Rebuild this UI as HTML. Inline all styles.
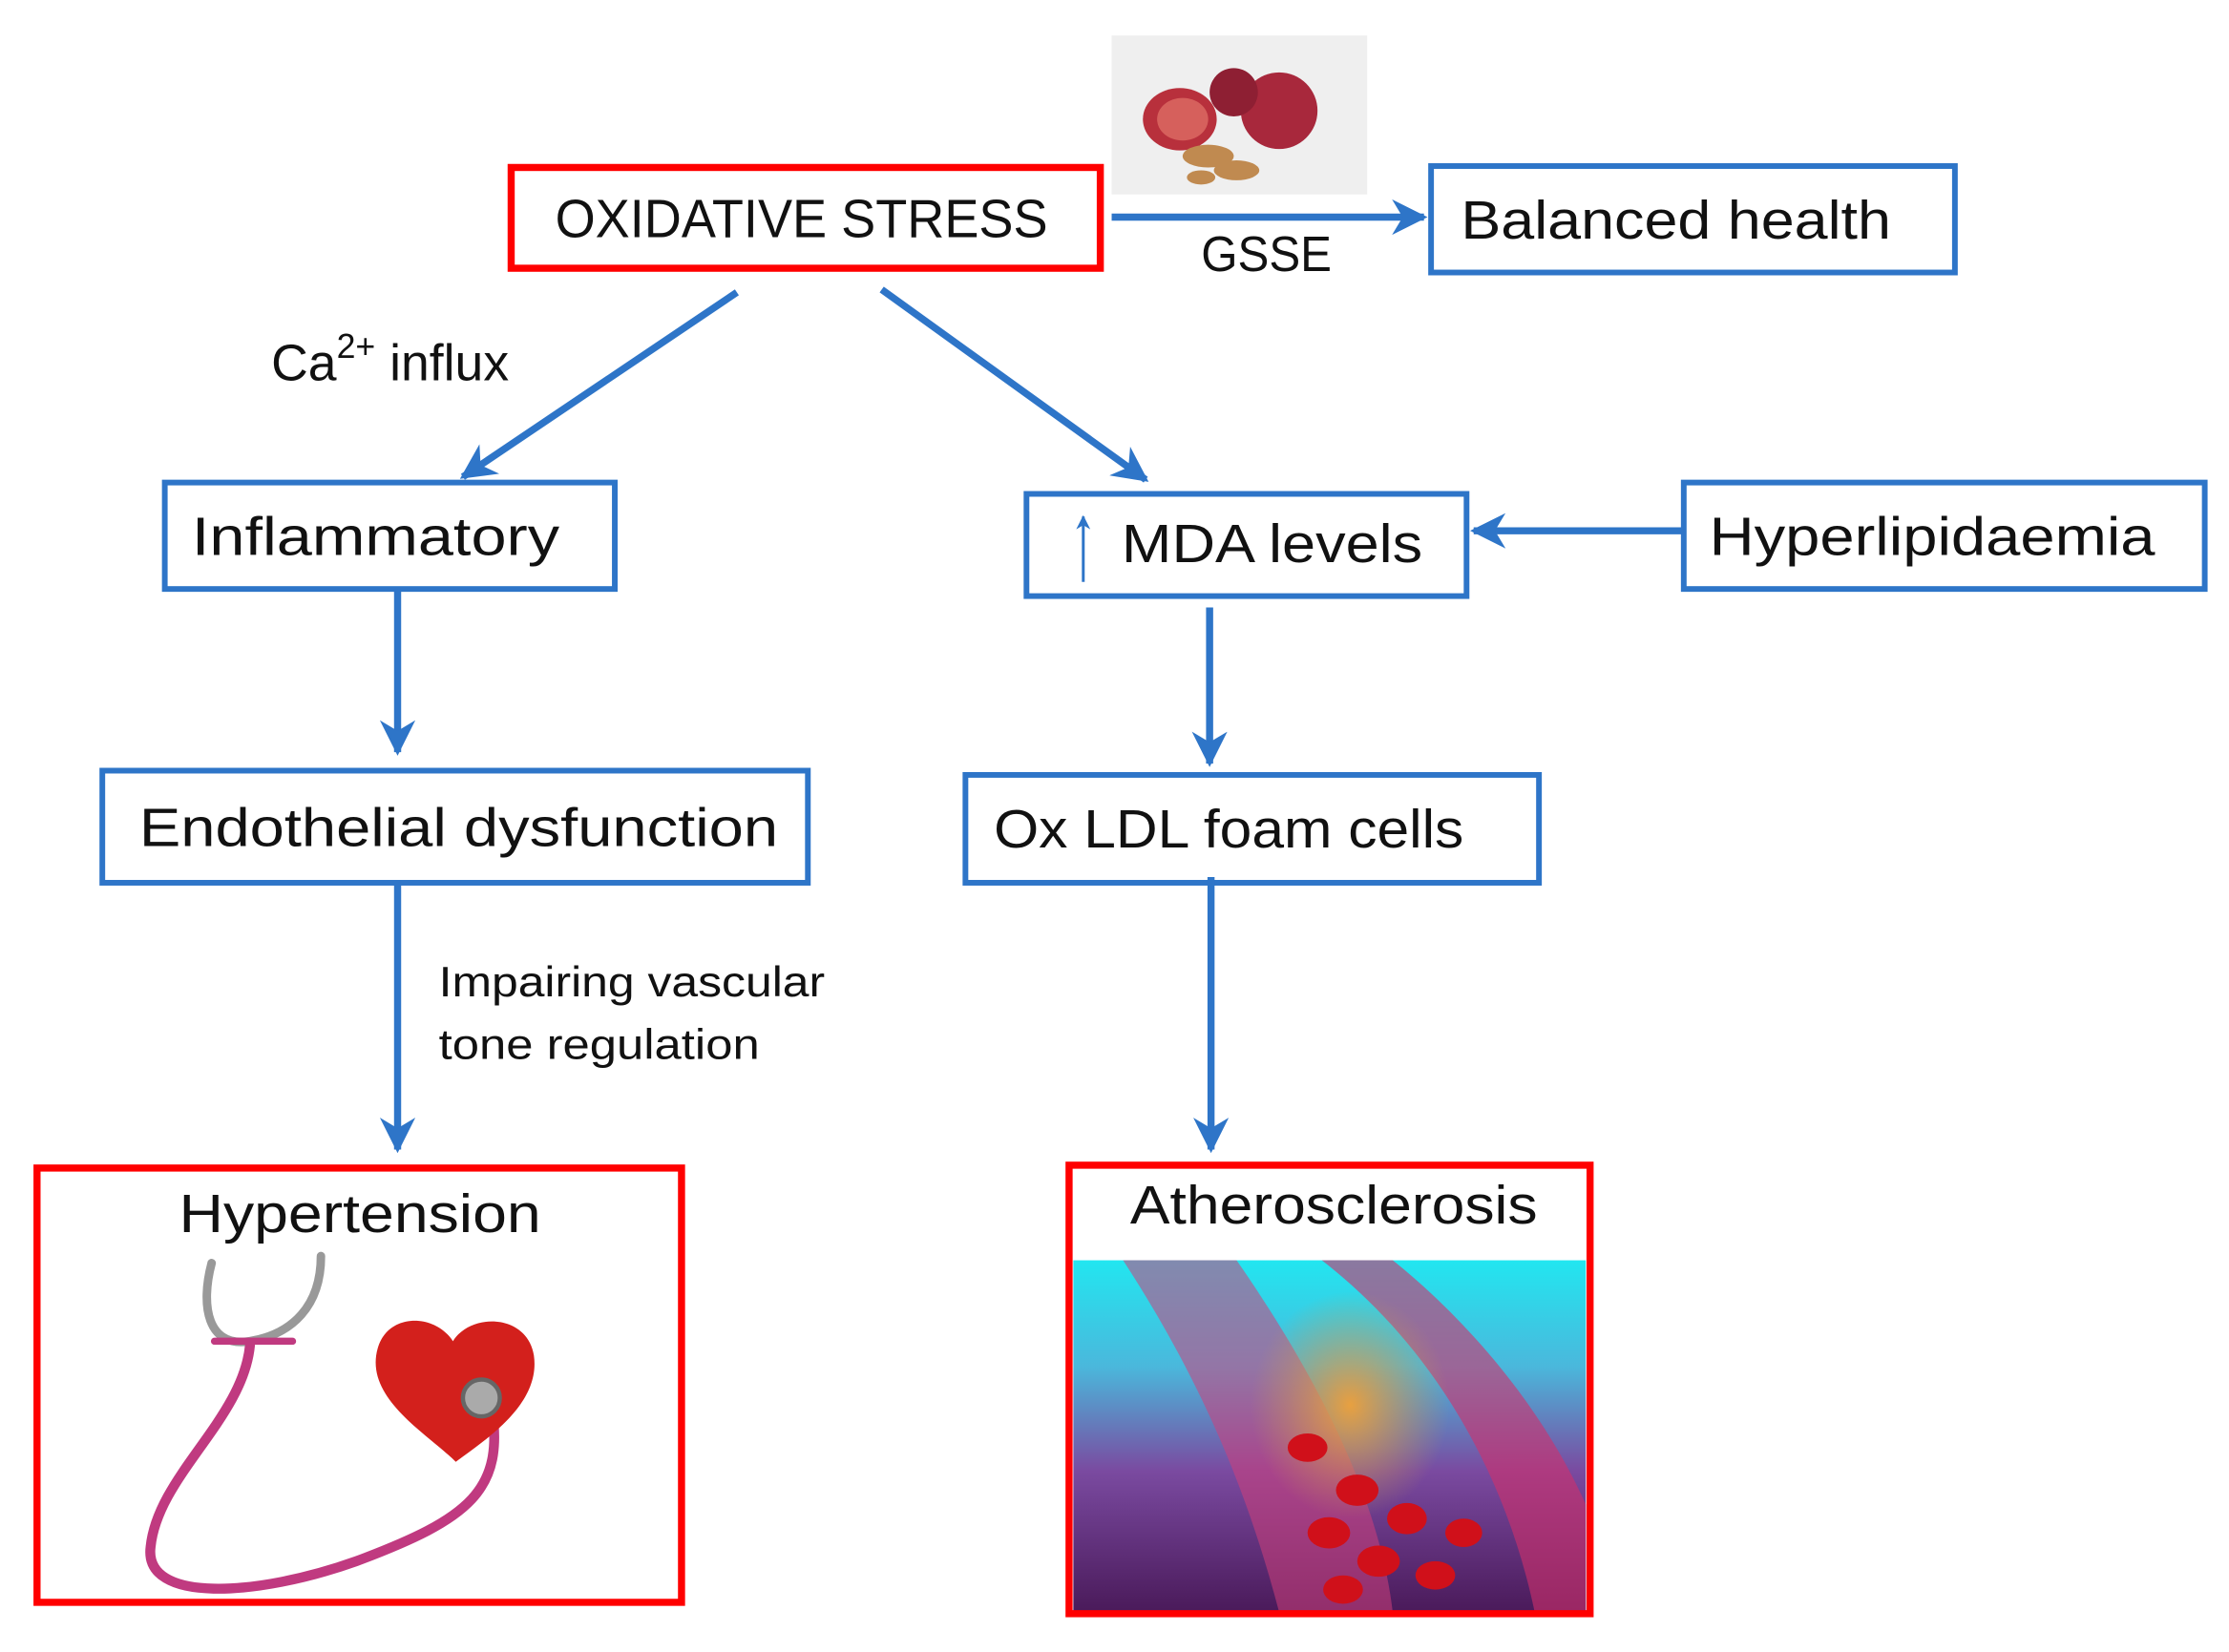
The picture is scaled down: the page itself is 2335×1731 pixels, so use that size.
<!DOCTYPE html>
<html><head><meta charset="utf-8"><style>
html,body{margin:0;padding:0;background:#fff;width:2335px;height:1731px;overflow:hidden}
svg{display:block}
text{font-family:"Liberation Sans",sans-serif;fill:#111}
</style></head><body>
<svg width="2335" height="1731" viewBox="0 0 1568 1164" xmlns="http://www.w3.org/2000/svg">
<defs>
<marker id="a" viewBox="0 0 10 10" refX="9" refY="5" markerWidth="5" markerHeight="5" orient="auto"><path d="M0,0 L10,5 L0,10 L3,5 z" fill="#2e75c8"/></marker>
<linearGradient id="ath" x1="0" y1="0" x2="0" y2="1">
<stop offset="0" stop-color="#22e6f0"/><stop offset="0.3" stop-color="#4ab8dc"/><stop offset="0.6" stop-color="#7a4aa0"/><stop offset="1" stop-color="#4a1a5a"/></linearGradient>
<radialGradient id="plq" cx="0.5" cy="0.5" r="0.5"><stop offset="0" stop-color="#e8a040"/><stop offset="1" stop-color="#c89a50" stop-opacity="0"/></radialGradient>
</defs>
<g fill="none" stroke="#2e75c8" stroke-width="4">
<rect x="1007" y="117" width="369" height="75"/>
<rect x="115" y="340" width="317" height="75"/>
<rect x="722" y="348" width="310" height="72"/>
<rect x="1185" y="340" width="367" height="75"/>
<rect x="71" y="543" width="497" height="79"/>
<rect x="679" y="546" width="404" height="76"/>
</g>
<g stroke="#2e75c8" stroke-width="5" fill="none" marker-end="url(#a)">
<line x1="782" y1="153" x2="1002" y2="153"/>
<line x1="518" y1="206" x2="325" y2="336"/>
<line x1="620" y1="204" x2="806" y2="338"/>
<line x1="1185" y1="374" x2="1037" y2="374"/>
<line x1="279" y1="415" x2="279" y2="530"/>
<line x1="851" y1="428" x2="851" y2="538"/>
<line x1="279" y1="622" x2="279" y2="810"/>
<line x1="852" y1="618" x2="852" y2="810"/>
</g>
<line x1="762" y1="410" x2="762" y2="364" stroke="#2e75c8" stroke-width="2" marker-end="url(#a)"/>
<rect x="782" y="25" width="180" height="112" fill="#efefef"/>
<circle cx="900" cy="78" r="27" fill="#a8283c"/>
<circle cx="868" cy="65" r="17" fill="#8e1f33"/>
<ellipse cx="830" cy="84" rx="26" ry="22" fill="#b8303c"/>
<ellipse cx="832" cy="84" rx="18" ry="15" fill="#d6605c"/>
<g fill="#c08a50"><ellipse cx="850" cy="110" rx="18" ry="8"/><ellipse cx="870" cy="120" rx="16" ry="7"/><ellipse cx="845" cy="125" rx="10" ry="5"/></g>
<rect x="359" y="118" width="415" height="71" fill="none" stroke="#f00" stroke-width="5"/>
<g lengthAdjust="spacingAndGlyphs">
<text x="390" y="167" font-size="38" textLength="347" lengthAdjust="spacingAndGlyphs">OXIDATIVE STRESS</text>
<text x="845" y="191" font-size="35" textLength="92" lengthAdjust="spacingAndGlyphs">GSSE</text>
<text x="1028" y="168" font-size="38" textLength="303" lengthAdjust="spacingAndGlyphs">Balanced health</text>
<text x="190" y="268" font-size="36">Ca<tspan font-size="24" dy="-16">2+</tspan><tspan dy="16" dx="10">influx</tspan></text>
<text x="134" y="391" font-size="38" textLength="259" lengthAdjust="spacingAndGlyphs">Inflammatory</text>
<text x="789" y="396" font-size="38" textLength="212" lengthAdjust="spacingAndGlyphs">MDA levels</text>
<text x="1203" y="391" font-size="38" textLength="314" lengthAdjust="spacingAndGlyphs">Hyperlipidaemia</text>
<text x="97" y="596" font-size="38" textLength="450" lengthAdjust="spacingAndGlyphs">Endothelial dysfunction</text>
<text x="699" y="597" font-size="38" textLength="331" lengthAdjust="spacingAndGlyphs">Ox LDL foam cells</text>
<text x="308" y="702" font-size="30" textLength="272" lengthAdjust="spacingAndGlyphs">Impairing vascular</text>
<text x="308" y="746" font-size="30" textLength="226" lengthAdjust="spacingAndGlyphs">tone regulation</text>
</g>
<rect x="25" y="823" width="454" height="306" fill="none" stroke="#f00" stroke-width="5"/>
<text x="125" y="868" font-size="38" textLength="255" lengthAdjust="spacingAndGlyphs">Hypertension</text>
<g fill="none" stroke-linecap="round">
<path d="M148,890 C140,920 145,950 175,945 C205,940 225,920 225,885" stroke="#999" stroke-width="6"/>
<path d="M175,948 C170,1000 110,1040 105,1090 C100,1130 180,1125 250,1100 C330,1070 355,1050 345,990" stroke="#c03a80" stroke-width="7"/>
<path d="M150,945 L205,945" stroke="#c03a80" stroke-width="5"/>
</g>
<path d="M320,1030 C300,1010 255,985 265,950 C272,925 305,925 318,945 C330,925 370,925 375,955 C380,990 340,1015 320,1030 Z" fill="#d3201c"/>
<circle cx="338" cy="985" r="13" fill="#aaa" stroke="#666" stroke-width="3"/>
<rect x="755" y="888" width="361" height="248" fill="url(#ath)"/>
<path d="M790,888 C850,980 880,1060 900,1136 L980,1136 C970,1050 920,960 870,888 Z" fill="#d0407a" opacity="0.55"/>
<path d="M930,888 C1010,950 1060,1040 1080,1136 L1116,1136 L1116,1060 C1080,980 1020,920 980,888 Z" fill="#d0306a" opacity="0.6"/>
<ellipse cx="950" cy="990" rx="70" ry="80" fill="url(#plq)"/>
<g fill="#d0101a"><ellipse cx="920" cy="1020" rx="14" ry="10"/><ellipse cx="955" cy="1050" rx="15" ry="11"/><ellipse cx="990" cy="1070" rx="14" ry="11"/><ellipse cx="935" cy="1080" rx="15" ry="11"/><ellipse cx="970" cy="1100" rx="15" ry="11"/><ellipse cx="1010" cy="1110" rx="14" ry="10"/><ellipse cx="945" cy="1120" rx="14" ry="10"/><ellipse cx="1030" cy="1080" rx="13" ry="10"/></g>
<rect x="752" y="821" width="367" height="316" fill="none" stroke="#f00" stroke-width="5"/>
<text x="795" y="862" font-size="38" textLength="287" lengthAdjust="spacingAndGlyphs">Atherosclerosis</text>
</svg>
</body></html>
